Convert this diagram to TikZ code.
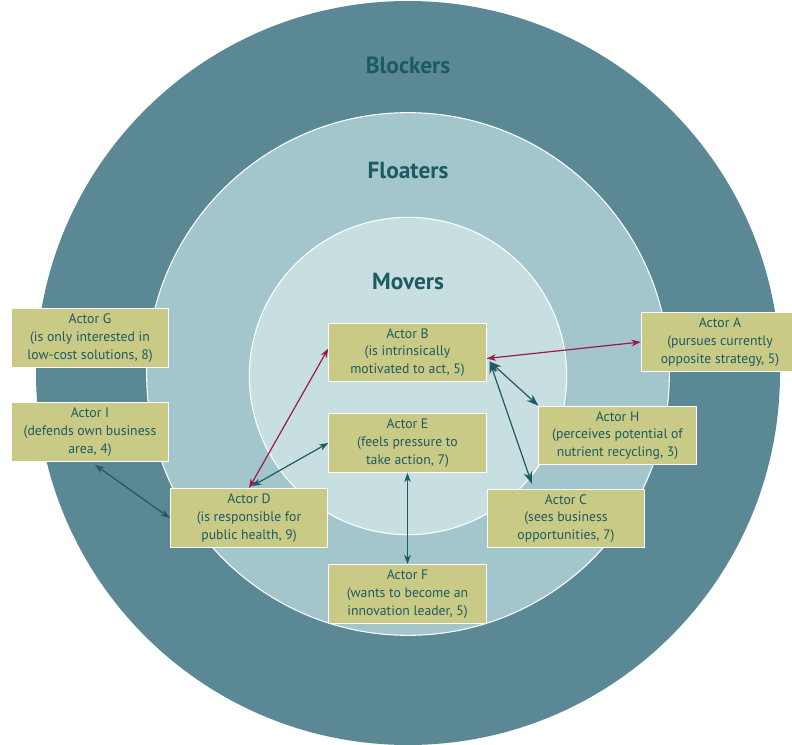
\documentclass[tikz,border=0pt]{standalone}
\usepackage{fontspec}
\setmainfont{PT Sans}
\usepackage{tikz}
\usetikzlibrary{positioning, arrows.meta, calc}

\definecolor{ringout}{HTML}{5A8895}
\definecolor{ringmid}{HTML}{A3C6CD}
\definecolor{ringin}{HTML}{C8DFE2}
\definecolor{boxfill}{HTML}{C9CA86}
\definecolor{tealtxt}{HTML}{1E5A62}
\definecolor{crimson}{HTML}{9A1B4A}

\begin{document}
\begin{tikzpicture}[x=0.75pt, y=-0.75pt, >={Stealth[length=7pt, width=5pt]},
      actor/.style={draw=white, line width=0.8pt, fill=boxfill, text=tealtxt, align=center,
                    minimum width=118pt, minimum height=44pt, inner sep=2pt,
                    font=\fontsize{10.3}{13.4}\selectfont},
      ring/.style={draw=white, line width=0.8pt},
      title/.style={font=\fontsize{17.5}{20}\selectfont\bfseries, text=tealtxt},
      link/.style={<->, line width=0.9pt, tealtxt},
      hot/.style={<->, line width=0.9pt, crimson}]
    \useasboundingbox (0,0) rectangle (792,745);
    % --- the three rings ---
    \fill[ringout] (408,373) circle[radius=279pt];
    \draw[ring, fill=ringmid] (408,374) circle[radius=196pt];
    \draw[ring, fill=ringin] (408,376) circle[radius=119pt];
    \node[title] (blockers) at (408,65)  {Blockers};
    \node[title] (floaters) at (408,170) {Floaters};
    \node[title] (movers)   at (408,281) {Movers};
    % --- actors ---
    \node[actor] (G) at (90,338)    {Actor G\\(is only interested in\\low-cost solutions, 8)};
    \node[actor] (I) at (90,432)    {Actor I\\(defends own business\\area, 4)};
    \node[actor] (D) at (249,518)   {Actor D\\(is responsible for\\public health, 9)};
    \node[actor] (B) at (407.5,352.5) {Actor B\\(is intrinsically\\motivated to act, 5)};
    \node[actor] (E) at (407.5,443) {Actor E\\(feels pressure to\\take action, 7)};
    \node[actor] (F) at (407.5,594) {Actor F\\(wants to become an\\innovation leader, 5)};
    \node[actor] (A) at (720,342)   {Actor A\\(pursues currently\\opposite strategy, 5)};
    \node[actor] (H) at (617.5,435.5) {Actor H\\(perceives potential of\\nutrient recycling, 3)};
    \node[actor] (C) at (566,518.5) {Actor C\\(sees business\\opportunities, 7)};
    % --- links ---
    \coordinate (bout) at ($(B.east)+(3,9)$);
    \draw[hot]  (D.north) -- ($(B.west)+(0,-4)$);
    \draw[link] ($(D.north)+(3,-2)$) -- (E.west);
    \draw[link] ($(I.south)+(5,3)$) -- (D.west);
    \draw[hot]  ($(B.east)+(0,6)$) -- (A.west);
    \draw[link, >={Stealth[length=9pt, width=6.5pt]}] (bout) -- (H.north west);
    \draw[link, >={Stealth[length=9pt, width=6.5pt]}] (bout) -- ($(C.north west)+(45,-5)$);
    \draw[link] (E.south) -- (F.north);
  \end{tikzpicture}
\end{document}
